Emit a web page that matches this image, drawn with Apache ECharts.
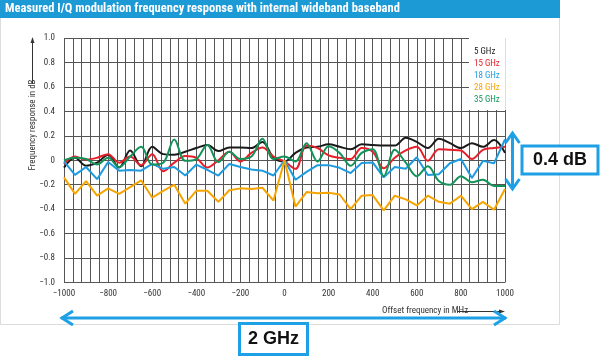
<!DOCTYPE html>
<html><head><meta charset="utf-8">
<script src="https://cdn.jsdelivr.net/npm/echarts@6/dist/echarts.min.js"></script>
<style>html,body{margin:0;padding:0;background:#fff}#c{width:600px;height:357px}</style>
</head><body><div id="c"></div><script>
const offsetMHz = [-1000,-950,-900,-850,-800,-750,-700,-650,-600,-550,-500,-450,-400,-350,-300,-250,-200,-150,-100,-50,0,50,100,150,200,250,300,350,400,450,500,550,600,650,700,750,800,850,900,950,1000];
const resp5GHz  = [-0.06,0.02,-0.045,-0.02,0.045,-0.06,0.08,-0.05,0.11,0.05,0.045,0.07,0.1,0.125,0.075,0.105,0.105,0.1,0.15,0.02,-0.01,0.06,0.105,0.11,0.13,0.11,0.09,0.13,0.125,0.12,0.12,0.185,0.15,0.1,0.175,0.14,0.1,0.14,0.11,0.165,0.06];
const resp15GHz = [-0.03,0.03,0.005,0.02,0.05,-0.02,0.03,-0.04,0.05,-0.09,-0.02,0.035,0.02,-0.06,0.0,0.07,-0.01,0.06,0.105,0.03,-0.01,-0.07,0.12,0.1,0.04,0.02,0.01,0.1,0.07,-0.065,0.02,0.08,0.11,-0.005,0.09,0.085,0.08,0.01,0.085,0.1,0.11];
const resp18GHz = [-0.01,-0.12,-0.055,-0.155,-0.015,-0.085,-0.08,-0.085,-0.03,-0.07,-0.055,-0.125,-0.035,-0.078,-0.125,-0.03,-0.055,-0.075,-0.085,-0.125,0.0,-0.16,-0.095,-0.04,-0.04,-0.062,-0.105,-0.023,-0.018,-0.14,-0.055,-0.07,0.025,-0.12,-0.115,-0.025,0.01,-0.145,-0.005,-0.025,0.17];
const resp28GHz = [-0.14,-0.275,-0.17,-0.29,-0.23,-0.275,-0.22,-0.165,-0.305,-0.25,-0.2,-0.355,-0.25,-0.25,-0.34,-0.245,-0.23,-0.235,-0.225,-0.33,0.0,-0.38,-0.26,-0.27,-0.265,-0.28,-0.4,-0.29,-0.285,-0.41,-0.29,-0.32,-0.37,-0.29,-0.34,-0.355,-0.29,-0.4,-0.34,-0.405,-0.235];
const resp35GHz = [0.0,0.02,0.01,-0.035,0.02,-0.055,0.03,0.11,-0.035,-0.02,0.17,-0.005,0.01,0.125,-0.015,0.07,0.01,0.03,0.175,0.01,0.03,-0.01,0.14,-0.01,0.115,0.06,-0.045,0.06,0.09,-0.13,0.085,-0.02,-0.13,-0.05,-0.17,-0.2,-0.13,-0.18,-0.16,-0.21,-0.21];
const seriesNames = ['5 GHz','15 GHz','18 GHz','28 GHz','35 GHz'];
const seriesValues = [resp5GHz, resp15GHz, resp18GHz, resp28GHz, resp35GHz];
const seriesSmooth = [0.35, 0.35, false, false, 0.35];
const seriesColors = ['#1a1a1a','#e5202b','#1e9be0','#f6a400','#13935a'];
const xTickValues = [-1000,-800,-600,-400,-200,0,200,400,600,800,1000];
const yTickValues = [-1.0,-0.8,-0.6,-0.4,-0.2,0,0.2,0.4,0.6,0.8,1.0];
const titleText = 'Measured I/Q modulation frequency response with internal wideband baseband';
const yName = 'Frequency response in dB';
const xName = 'Offset frequency in MHz';

const NARROW = '"Liberation Sans Narrow","Arial Narrow","Roboto Condensed",sans-serif';
const BLUE = '#1ea0e6';
const fmtNum = v => v < 0 ? '\u2212' + String(-v) : String(v);

const chart = echarts.init(document.getElementById('c'), null, {renderer:'canvas'});
const gridLine = {show:true, lineStyle:{color:'#555', width:1}};
chart.setOption({
  animation:false,
  backgroundColor:'#fff',
  grid:{left:64, right:95, top:38, bottom:74.5},
  legend:{
    orient:'vertical', left:469, top:38, icon:'none', itemWidth:0, itemHeight:9, itemGap:3,
    padding:[9,6,6,0], backgroundColor:'#fff', selectedMode:false,
    textStyle:{fontSize:9, fontFamily:NARROW, lineHeight:9},
    data: seriesNames.map((n,i)=>({name:n, textStyle:{color:seriesColors[i]}}))
  },
  xAxis:{
    type:'value', min:-1000, max:1000, interval:200,
    axisLine:{show:false}, axisTick:{show:false},
    splitLine:gridLine,
    minorTick:{show:false, splitNumber:5},
    minorSplitLine:gridLine,
    axisLabel:{fontSize:9, fontFamily:NARROW, color:'#333', margin:7,
      formatter: v => xTickValues.indexOf(v) >= 0 ? fmtNum(v) : ''}
  },
  yAxis:{
    type:'value', min:-1, max:1, interval:0.2,
    axisLine:{show:false}, axisTick:{show:false},
    splitLine:gridLine,
    axisLabel:{fontSize:9, fontFamily:NARROW, color:'#333', margin:9,
      formatter: v => { const r = Math.round(v*10)/10; const t = yTickValues.find(y => Math.abs(y-r) < 1e-9);
        if (t === undefined) return ''; if (t === 0) return '0'; return (t<0?'\u2212':'') + Math.abs(t).toFixed(1); }}
  },
  series: seriesNames.map((n,i)=>({
    name:n, type:'line', showSymbol:false, symbol:'none', smooth:seriesSmooth[i],
    data: offsetMHz.map((x,k)=>[x, seriesValues[i][k]]),
    lineStyle:{color:seriesColors[i], width:2}, itemStyle:{color:seriesColors[i]}, z:3+i
  })),
  graphic:[
    {type:'rect', z:-10, shape:{x:0.5,y:17.5,width:559,height:307}, style:{fill:'none', stroke:'#dcdcdc', lineWidth:1}},
    {type:'rect', z:-9, shape:{x:0,y:0,width:560,height:18}, style:{fill:'#1b9ad6'}},
    {type:'text', z:-8, x:5, y:9, style:{text:titleText, fill:'#fff', font:'bold 12.5px '+NARROW, textVerticalAlign:'middle', textAlign:'left'}},
    {type:'text', x:33, y:125, rotation:Math.PI/2, style:{text:yName, fill:'#333', font:'9px '+NARROW, textAlign:'center', textVerticalAlign:'middle'}},
    {type:'line', shape:{x1:32.5,y1:84,x2:32.5,y2:41}, style:{stroke:'#333', lineWidth:1}},
    {type:'polygon', shape:{points:[[32.5,37],[30.5,43],[34.5,43]]}, style:{fill:'#333'}},
    {type:'text', x:382, y:311, style:{text:xName, fill:'#333', font:'9px '+NARROW, textAlign:'left', textVerticalAlign:'middle'}},
    {type:'line', shape:{x1:457,y1:311.5,x2:501,y2:311.5}, style:{stroke:'#333', lineWidth:1}},
    {type:'polygon', shape:{points:[[505,311.5],[499,309.5],[499,313.5]]}, style:{fill:'#333'}},
    {type:'line', z:20, shape:{x1:61,y1:318,x2:506,y2:318}, style:{stroke:BLUE, lineWidth:3}},
    {type:'polyline', z:20, shape:{points:[[73,311],[62,318],[73,325]]}, style:{stroke:BLUE, lineWidth:3, fill:'none'}},
    {type:'polyline', z:20, shape:{points:[[494,311],[505,318],[494,325]]}, style:{stroke:BLUE, lineWidth:3, fill:'none'}},
    {type:'rect', z:21, shape:{x:239.5,y:323.5,width:68,height:31}, style:{fill:'#fff', stroke:BLUE, lineWidth:3}},
    {type:'text', z:22, x:273.5, y:339.5, style:{text:'2 GHz', fill:'#111', font:'bold 18px "Liberation Sans",Arial,sans-serif', textAlign:'center', textVerticalAlign:'middle'}},
    {type:'line', z:20, shape:{x1:512.5,y1:133,x2:512.5,y2:189}, style:{stroke:BLUE, lineWidth:3}},
    {type:'polyline', z:20, shape:{points:[[505.5,143],[512.5,133],[519.5,143]]}, style:{stroke:BLUE, lineWidth:3, fill:'none'}},
    {type:'polyline', z:20, shape:{points:[[505.5,179],[512.5,189],[519.5,179]]}, style:{stroke:BLUE, lineWidth:3, fill:'none'}},
    {type:'rect', z:21, shape:{x:522,y:146,width:76,height:28}, style:{fill:'#fff', stroke:BLUE, lineWidth:3}},
    {type:'text', z:22, x:560, y:160.5, style:{text:'0.4 dB', fill:'#111', font:'bold 18px "Liberation Sans",Arial,sans-serif', textAlign:'center', textVerticalAlign:'middle'}}
  ]
});
</script></body></html>
